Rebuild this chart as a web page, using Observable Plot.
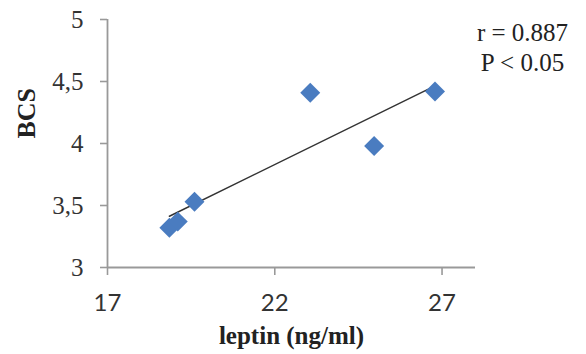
<!DOCTYPE html>
<html>
<head>
<meta charset="utf-8">
<script src="https://cdn.jsdelivr.net/npm/d3@7"></script>
<script src="https://cdn.jsdelivr.net/npm/@observablehq/plot@0.6"></script>
<style>
  html, body { margin: 0; padding: 0; background: #fff; }
</style>
</head>
<body>
<div id="chart"></div>
<script>
const leptin = [18.85, 19.1, 19.6, 23.06, 24.97, 26.79];
const bcs = [3.32, 3.37, 3.53, 4.41, 3.98, 4.42];
const xTicks = [17, 22, 27];
const yTicks = [3, 3.5, 4, 4.5, 5];
const xLabel = "leptin (ng/ml)";
const yLabel = "BCS";
const statsText = ["r = 0.887", "P < 0.05"];

const data = leptin.map((x, i) => ({x, y: bcs[i]}));
const serif = "'Liberation Serif', 'DejaVu Serif', serif";
const axisColor = "#999";

const chart = Plot.plot({
  width: 586,
  height: 354,
  marginLeft: 107,
  marginRight: 111,
  marginTop: 19,
  marginBottom: 87,
  style: {background: "#fff", overflow: "visible"},
  x: {domain: [17, 28]},
  y: {domain: [3, 5]},
  marks: [
    Plot.axisY({
      ticks: yTicks,
      tickSize: 7,
      tickPadding: 17,
      tickFormat: d => String(d).replace(".", ","),
      stroke: axisColor,
      strokeWidth: 1.6,
      fill: "#333",
      fontSize: 25,
      fontFamily: serif,
      label: null
    }),
    Plot.axisX({
      ticks: xTicks,
      tickSize: 8,
      tickPadding: 18,
      stroke: axisColor,
      strokeWidth: 1.6,
      fill: "#333",
      fontSize: 24,
      fontFamily: "Lato, 'Open Sans', sans-serif",
      label: null
    }),
    Plot.ruleX([17], {stroke: axisColor, strokeWidth: 1.8}),
    Plot.ruleY([3], {stroke: axisColor, strokeWidth: 1.8}),
    Plot.linearRegressionY(data, {x: "x", y: "y", ci: 0, stroke: "#333", strokeWidth: 1.5}),
    Plot.dot(data, {x: "x", y: "y", symbol: "diamond2", r: 9, fill: "#4a7cc0", stroke: "none"}),
    Plot.text([statsText.join("\n")], {
      frameAnchor: "top-right", dx: 47, dy: 0,
      textAnchor: "middle", lineAnchor: "top", lineHeight: 1.2,
      fontSize: 25, fontFamily: serif, fill: "#222"
    }),
    Plot.text([xLabel], {
      frameAnchor: "bottom", dy: 76, lineAnchor: "bottom",
      fontSize: 25, fontWeight: "bold", fontFamily: serif, fill: "#222"
    }),
    Plot.text([yLabel], {
      frameAnchor: "left", dx: -81, dy: -5, rotate: -90,
      fontSize: 26, fontWeight: "bold", fontFamily: serif, fill: "#222"
    })
  ]
});
document.getElementById("chart").appendChild(chart);
</script>
</body>
</html>
